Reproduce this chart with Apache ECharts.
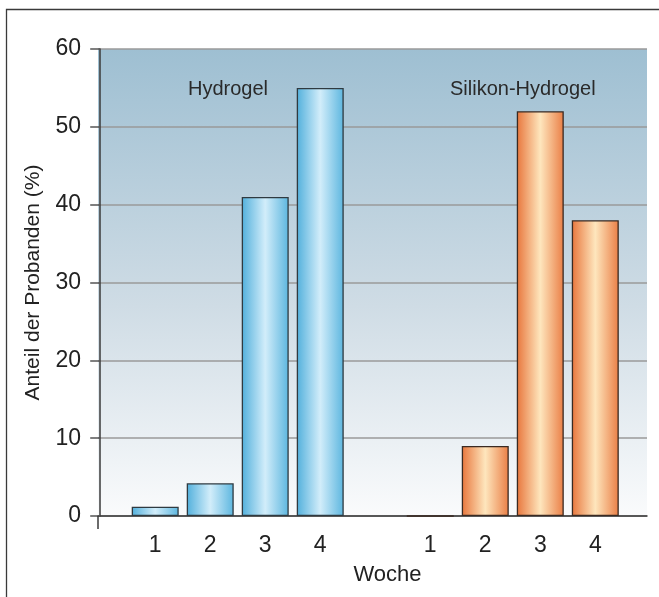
<!DOCTYPE html>
<html>
<head>
<meta charset="utf-8">
<title>Anteil der Probanden</title>
<script src="https://cdn.jsdelivr.net/npm/echarts@6/dist/echarts.min.js"></script>
<style>
  html, body { margin: 0; padding: 0; background: #ffffff; }
  #chart { width: 659px; height: 597px; }
</style>
</head>
<body>
<div id="chart"></div>
<script>
// Week labels on the x axis (repeated for each lens group)
const weeks = ['1', '2', '3', '4'];
// Share of participants (%) per week
const hydrogel = [1.2, 4.2, 41, 55];
const silikonHydrogel = [0, 9, 52, 38];
// Group captions
const groupNames = ['Hydrogel', 'Silikon-Hydrogel'];
// Y axis tick values
const yTicks = [0, 10, 20, 30, 40, 50, 60];

const FONT = '"Liberation Sans", Arial, Helvetica, sans-serif';

// Each group occupies four slots; one empty slot separates the groups.
const groupStart = [1, 6];
const slotsOf = (g) => weeks.map((_, i) => groupStart[g] + i);
const allSlots = slotsOf(0).concat(slotsOf(1));

function barGradient(edgeL, mid, edgeR) {
  return new echarts.graphic.LinearGradient(0, 0, 1, 0, [
    { offset: 0, color: edgeL },
    { offset: 0.5, color: mid },
    { offset: 1, color: edgeR }
  ]);
}

const chart = echarts.init(document.getElementById('chart'), null, { renderer: 'canvas' });

chart.setOption({
  animation: false,
  textStyle: { fontFamily: FONT },
  graphic: [
    {
      type: 'polyline',
      shape: { points: [[6.5, 597], [6.5, 9.5], [659, 9.5]] },
      style: { stroke: '#3a3a3a', lineWidth: 1.3, fill: null },
      silent: true
    },
    {
      type: 'text', left: 188, top: 79,
      style: { text: groupNames[0], font: '20px ' + FONT, fill: '#2a2a2a' }
    },
    {
      type: 'text', left: 450, top: 79,
      style: { text: groupNames[1], font: '20px ' + FONT, fill: '#2a2a2a' }
    }
  ],
  grid: {
    left: 98, right: 12, top: 49, bottom: 81,
    show: true,
    borderWidth: 0,
    backgroundColor: new echarts.graphic.LinearGradient(0, 0, 0, 1, [
      { offset: 0, color: '#9ebfd2' },
      { offset: 0.55, color: '#cfdce5' },
      { offset: 1, color: '#fafbfc' }
    ])
  },
  xAxis: {
    type: 'value',
    min: -0.04,
    max: 9.94,
    name: 'Woche',
    nameLocation: 'middle',
    nameGap: 48,
    nameTextStyle: { fontSize: 22, color: '#222', fontFamily: FONT, padding: [0, 0, 0, 30] },
    axisLine: { show: true, onZero: true, lineStyle: { color: '#3a3a3a', width: 1.5 } },
    axisTick: { show: true, customValues: [-0.04], length: 13, lineStyle: { color: '#3a3a3a', width: 1.5 } },
    splitLine: { show: false },
    axisLabel: {
      customValues: allSlots,
      margin: 18,
      fontSize: 23,
      color: '#222',
      fontFamily: FONT,
      formatter: (v) => {
        const g = v >= groupStart[1] ? 1 : 0;
        return weeks[Math.round(v) - groupStart[g]];
      }
    }
  },
  yAxis: {
    type: 'value',
    min: yTicks[0],
    max: yTicks[yTicks.length - 1],
    interval: 10,
    name: 'Anteil der Probanden (%)',
    nameLocation: 'middle',
    nameGap: 54,
    nameRotate: 90,
    nameTextStyle: { fontSize: 21, color: '#222', fontFamily: FONT },
    axisLine: { show: true, lineStyle: { color: '#3a3a3a', width: 1.5 } },
    axisTick: { show: true, length: 10, lineStyle: { color: '#555', width: 1.5 } },
    splitLine: { show: true, lineStyle: { color: '#9a9a9a', width: 1.5 } },
    axisLabel: { margin: 17, fontSize: 23, color: '#222', fontFamily: FONT }
  },
  series: [
    {
      name: groupNames[0],
      type: 'bar',
      barWidth: 47,
      barGap: '-100%',
      data: hydrogel.map((v, i) => [slotsOf(0)[i], v]),
      itemStyle: {
        color: barGradient('#52b0dc', '#d2edfa', '#5cb6df'),
        borderColor: '#2f3a40',
        borderWidth: 1.3
      }
    },
    {
      name: groupNames[1],
      type: 'bar',
      barWidth: 47,
      barGap: '-100%',
      data: silikonHydrogel.map((v, i) => [slotsOf(1)[i], v]),
      itemStyle: {
        color: barGradient('#e8763c', '#fee6bd', '#ea7e45'),
        borderColor: '#3a2a22',
        borderWidth: 1.3
      }
    }
  ]
});
</script>
</body>
</html>
